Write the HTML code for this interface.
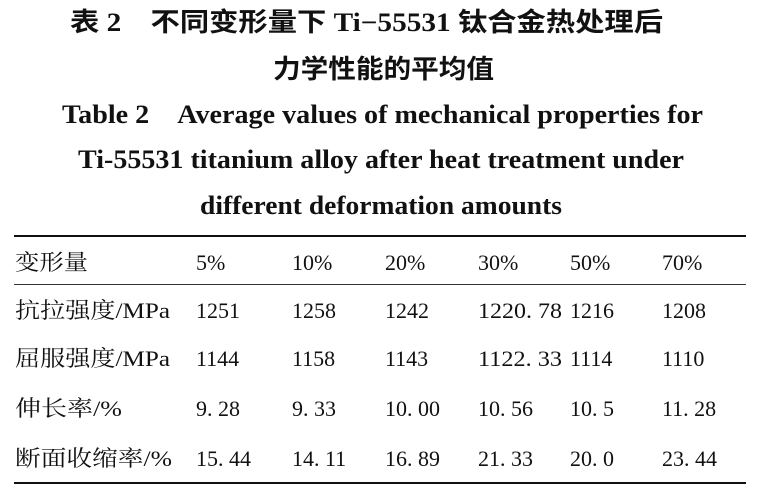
<!DOCTYPE html>
<html><head><meta charset="utf-8"><style>
html,body{margin:0;padding:0;background:#fff;width:758px;height:490px;overflow:hidden}
svg{display:block}
.t{font-family:"Liberation Serif","Noto Sans CJK SC",serif;font-weight:bold;font-size:26px;fill:#111}
.c{font-family:"Liberation Serif","Noto Serif CJK SC",serif;font-size:22px;fill:#111}
</style></head><body>
<svg width="758" height="490" viewBox="0 0 758 490" xmlns="http://www.w3.org/2000/svg">
<text class="t" x="70" y="31" textLength="593" lengthAdjust="spacingAndGlyphs">表 2　不同变形量下 Ti−55531 钛合金热处理后</text>
<text class="t" x="273" y="78" textLength="221" lengthAdjust="spacingAndGlyphs">力学性能的平均值</text>
<text class="t" x="62" y="123" textLength="641" lengthAdjust="spacingAndGlyphs">Table 2　Average values of mechanical properties for</text>
<text class="t" x="78" y="168" textLength="606" lengthAdjust="spacingAndGlyphs">Ti-55531 titanium alloy after heat treatment under</text>
<text class="t" x="200" y="214" textLength="362" lengthAdjust="spacingAndGlyphs">different deformation amounts</text>
<rect x="14" y="235" width="732" height="2" fill="#111"/>
<rect x="14" y="284" width="732" height="1" fill="#333"/>
<rect x="14" y="482" width="732" height="2" fill="#111"/>
<g class="c">
<text x="15" y="270" textLength="73" lengthAdjust="spacingAndGlyphs">变形量</text><text x="196" y="270">5%</text><text x="292" y="270">10%</text><text x="385" y="270">20%</text><text x="478" y="270">30%</text><text x="570" y="270">50%</text><text x="662" y="270">70%</text>
<text x="15" y="318" textLength="155" lengthAdjust="spacingAndGlyphs">抗拉强度/MPa</text><text x="196" y="318">1251</text><text x="292" y="318">1258</text><text x="385" y="318">1242</text><text x="478" y="318" textLength="84" lengthAdjust="spacingAndGlyphs">1220. 78</text><text x="570" y="318">1216</text><text x="662" y="318">1208</text>
<text x="15" y="366" textLength="155" lengthAdjust="spacingAndGlyphs">屈服强度/MPa</text><text x="196" y="366">1144</text><text x="292" y="366">1158</text><text x="385" y="366">1143</text><text x="478" y="366" textLength="84" lengthAdjust="spacingAndGlyphs">1122. 33</text><text x="570" y="366">1114</text><text x="662" y="366">1110</text>
<text x="15" y="416" textLength="107" lengthAdjust="spacingAndGlyphs">伸长率/%</text><text x="196" y="416">9. 28</text><text x="292" y="416">9. 33</text><text x="385" y="416">10. 00</text><text x="478" y="416">10. 56</text><text x="570" y="416">10. 5</text><text x="662" y="416">11. 28</text>
<text x="15" y="466" textLength="157" lengthAdjust="spacingAndGlyphs">断面收缩率/%</text><text x="196" y="466">15. 44</text><text x="292" y="466">14. 11</text><text x="385" y="466">16. 89</text><text x="478" y="466">21. 33</text><text x="570" y="466">20. 0</text><text x="662" y="466">23. 44</text>
</g>
</svg>
</body></html>
